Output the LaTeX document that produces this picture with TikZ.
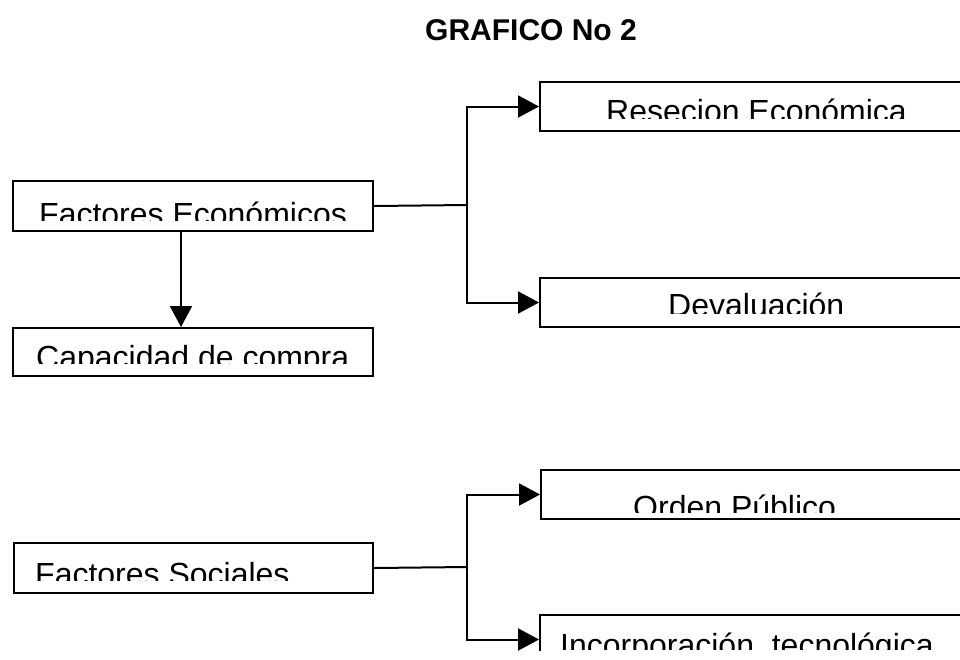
\documentclass[tikz,border=0pt]{standalone}
\usepackage{fontspec}
\setmainfont{Liberation Sans}
\usetikzlibrary{arrows.meta}
\begin{document}
\begin{tikzpicture}[x=1pt,y=-1pt,
  box/.style={draw=black, line width=2pt, rectangle, inner sep=0pt, anchor=north west},
  lbl/.style={inner sep=0pt, anchor=base west, font=\fontsize{32}{36}\selectfont},
  conn/.style={draw=black, line width=2pt},
  arr/.style={conn, -{Triangle[length=21pt,width=22pt]}}]
\useasboundingbox (0,0) rectangle (960,659);
\clip (0,0) rectangle (960,650);
\node[inner sep=0pt, anchor=base, font=\bfseries\fontsize{30}{34}\selectfont] (title) at (531,40) {GRAFICO No 2};
% boxes
\node[box, minimum width=360pt, minimum height=50pt] (FE) at (12,180) {};
\node[box, minimum width=360pt, minimum height=48pt] (Cap) at (12,327) {};
\node[box, minimum width=441pt, minimum height=49pt] (Res) at (539,81) {};
\node[box, minimum width=441pt, minimum height=49pt] (Dev) at (539,277) {};
\node[box, minimum width=359pt, minimum height=50pt] (FS) at (13,542) {};
\node[box, minimum width=441pt, minimum height=49pt] (Ord) at (540,469) {};
\node[box, minimum width=441pt, minimum height=49pt] (Inc) at (539,614) {};
% labels (cut at the bottom as in the scan)
\begin{scope}\clip (12,180) rectangle (372,220);
\node[lbl] (FEt) at (39,225) {Factores Económicos};\end{scope}
\begin{scope}\clip (12,327) rectangle (372,363);
\node[lbl] (Capt) at (36,368) {Capacidad de compra};\end{scope}
\begin{scope}\clip (539,81) rectangle (960,118);
\node[lbl] (Rest) at (606,122) {Resecion Económica};\end{scope}
\begin{scope}\clip (539,277) rectangle (960,313);
\node[lbl] (Devt) at (668,316) {Devaluación};\end{scope}
\begin{scope}\clip (13,542) rectangle (372,580);
\node[lbl] (FSt) at (35,585) {Factores Sociales};\end{scope}
\begin{scope}\clip (540,469) rectangle (960,512);
\node[lbl] (Ordt) at (633,518) {Orden Público};\end{scope}
\begin{scope}\clip (539,614) rectangle (960,649);
\node[lbl] (Inct) at (560,656) {Incorporación\ \ tecnológica};\end{scope}
% connectors
\coordinate (j1) at (467,205);
\coordinate (j2) at (467,567);
\draw[conn] (FE.east) -- (j1);
\draw[arr] (j1) |- (Res.west);
\draw[arr] (j1) |- (Dev.west);
\draw[arr] ([xshift=-12pt]FE.south) -- ([xshift=-12pt]Cap.north);
\draw[conn] (FS.east) -- (j2);
\draw[arr] (j2) |- (Ord.west);
\draw[arr] (j2) |- (Inc.west);
\end{tikzpicture}
\end{document}
